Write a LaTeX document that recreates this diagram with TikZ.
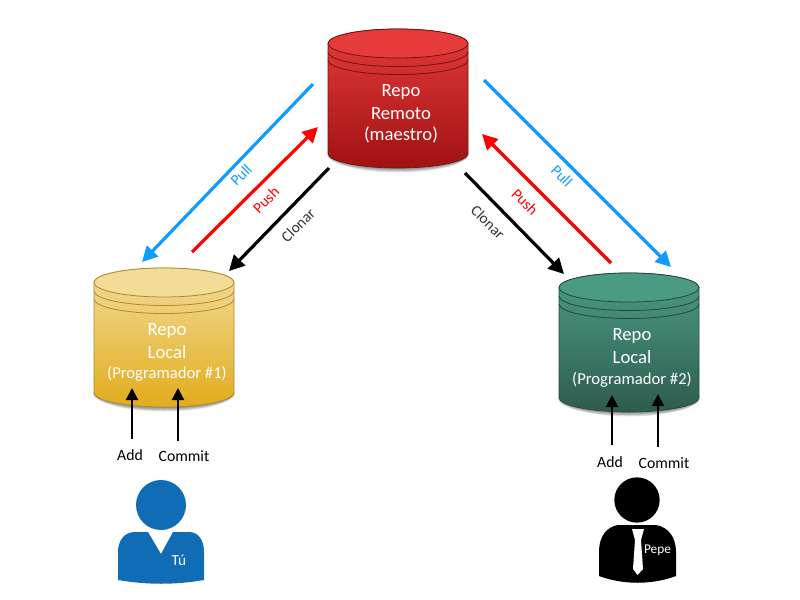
\documentclass[tikz,border=0pt]{standalone}
\usepackage{fontspec}
\setmainfont{Carlito}
\usetikzlibrary{arrows.meta}
\definecolor{pullblue}{HTML}{0F9BFF}
\definecolor{youblue}{HTML}{0F6CB5}
\definecolor{redtop}{HTML}{E63A3A}
\definecolor{redbot}{HTML}{A01212}
\definecolor{redlid}{HTML}{E53B3B}
\definecolor{redline}{HTML}{6E1414}
\definecolor{yeltop}{HTML}{F2DC9C}
\definecolor{yelbot}{HTML}{E2AC1C}
\definecolor{yellid}{HTML}{F2DC98}
\definecolor{yelline}{HTML}{B08A2A}
\definecolor{grntop}{HTML}{4C9C86}
\definecolor{grnbot}{HTML}{2E5C4E}
\definecolor{grnlid}{HTML}{4A9A84}
\definecolor{grnline}{HTML}{24483E}
\tikzset{
  flow/.style={line width=2.4pt,-{Triangle[length=11.5pt,width=11.5pt]}},
  small flow/.style={black,line width=1.6pt,-{Triangle[length=9pt,width=9pt]}},
  repotext/.style={text=white,font=\fontsize{14}{16}\selectfont,inner sep=0pt},
  reposub/.style={text=white,font=\fontsize{12.5}{14}\selectfont,inner sep=0pt},
  flowlabel/.style={font=\fontsize{11.5}{13}\selectfont,inner sep=0pt},
  cmdlabel/.style={font=\fontsize{11.8}{13}\selectfont,inner sep=0pt},
  badge/.style={text=white,font=\fontsize{10}{12}\selectfont,inner sep=0pt},
}
% #1 cx, #2 top y, #3 top colour, #4 bottom colour, #5 lid colour, #6 line colour
\newcommand{\repocyl}[6]{%
  \begin{scope}[shift={(#1,#2)}]
    \foreach \s in {1,...,6}{
      \fill[black,opacity=0.09]
        (-70-0.2*\s,124.5) arc[start angle=180,end angle=360,x radius={(70+0.2*\s)*0.75pt},y radius={(14.5+0.75*\s)*0.75pt}] -- cycle;
    }
    \shade[top color=#3,bottom color=#4,draw=#6,line width=0.5pt]
      (-70,14.5) -- (-70,124.5)
      arc[start angle=180,end angle=360,x radius=52.5pt,y radius=10.875pt]
      -- (70,14.5)
      arc[start angle=0,end angle=180,x radius=52.5pt,y radius=10.875pt] -- cycle;
    \draw[#6,line width=0.6pt] (-70,23) arc[start angle=180,end angle=360,x radius=52.5pt,y radius=10.875pt];
    \draw[#6,line width=0.6pt] (-70,31) arc[start angle=180,end angle=360,x radius=52.5pt,y radius=10.875pt];
    \path[fill=#5,draw=#6,line width=0.6pt] (0,14.5) ellipse[x radius=52.5pt,y radius=10.875pt];
  \end{scope}}
\begin{document}
\begin{tikzpicture}[x=0.75pt,y=-0.75pt]
\useasboundingbox (0,0) rectangle (800,600);

% repositories
\repocyl{398}{29}{redtop}{redbot}{redlid}{redline}
\repocyl{164}{268}{yeltop}{yelbot}{yellid}{yelline}
\repocyl{629}{273}{grntop}{grnbot}{grnlid}{grnline}

\node[repotext] (r1) at (401,92) {Repo};
\node[repotext] (r2) at (401,114) {Remoto};
\node[repotext] (r3) at (401,135) {(maestro)};
\node[repotext] (a1) at (167,331) {Repo};
\node[repotext] (a2) at (167,352) {Local};
\node[reposub] (a3) at (167,374) {(Programador \#1)};
\node[repotext] (b1) at (632,336) {Repo};
\node[repotext] (b2) at (632,357) {Local};
\node[reposub] (b3) at (632,380) {(Programador \#2)};

% free ends of the connectors
\coordinate (pullLs) at (313,84);   \coordinate (pullLe) at (142,262);
\coordinate (pushLs) at (192,252);  \coordinate (pushLe) at (318,127);
\coordinate (cloLs) at (329,168);   \coordinate (cloLe) at (229,271);
\coordinate (pullRs) at (484,80);   \coordinate (pullRe) at (671,267);
\coordinate (pushRs) at (611,263);  \coordinate (pushRe) at (482,134);
\coordinate (cloRs) at (465,173);   \coordinate (cloRe) at (564,274);
\coordinate (addLs) at (132,439);   \coordinate (addLe) at (132,388);
\coordinate (comLs) at (178,441);   \coordinate (comLe) at (178,388);
\coordinate (addRs) at (612,445);   \coordinate (addRe) at (612,395);
\coordinate (comRs) at (658,447);   \coordinate (comRe) at (658,394);

\draw[flow,pullblue] (pullLs) -- (pullLe);
\draw[flow,red] (pushLs) -- (pushLe);
\draw[flow,black] (cloLs) -- (cloLe);
\draw[flow,pullblue] (pullRs) -- (pullRe);
\draw[flow,red] (pushRs) -- (pushRe);
\draw[flow,black] (cloRs) -- (cloRe);
\draw[small flow] (addLs) -- (addLe);
\draw[small flow] (comLs) -- (comLe);
\draw[small flow] (addRs) -- (addRe);
\draw[small flow] (comRs) -- (comRe);

\node[flowlabel,text=pullblue,rotate=45] (lpull) at (241,175) {Pull};
\node[flowlabel,text=red,rotate=45] (lpush) at (266,200) {Push};
\node[flowlabel,text=black!80,rotate=45] (lclo) at (298,225) {Clonar};
\node[flowlabel,text=pullblue,rotate=-45] (rpull) at (562,176) {Pull};
\node[flowlabel,text=red,rotate=-45] (rpush) at (525,202) {Push};
\node[flowlabel,text=black!80,rotate=-45] (rclo) at (488,222) {Clonar};

\node[cmdlabel] (addL) at (130,455) {Add};
\node[cmdlabel] (comL) at (184,456) {Commit};
\node[cmdlabel] (addR) at (610,462) {Add};
\node[cmdlabel] (comR) at (664,463) {Commit};

% person, left
\fill[youblue] (161,505) circle[radius=18.75pt];
\fill[youblue] (148,532) -- (161,554) -- (173,532) -- (189,532)
  .. controls (199,532) and (204,541) .. (204,552) -- (204,580)
  .. controls (175,585) and (147,585) .. (118,580) -- (118,552)
  .. controls (118,541) and (124,532) .. (135,532) -- cycle;
\node[badge,font=\fontsize{11.5}{13}\selectfont] (tu) at (179,560) {Tú};

% person, right
\fill[black] (637,500) circle[radius=17pt];
\fill[black] (618,525) -- (656,525)
  .. controls (668,527) and (676,537) .. (676,552) -- (676,576)
  .. controls (652,585) and (623,585) .. (599,576) -- (599,552)
  .. controls (599,537) and (606,527) .. (618,525) -- cycle;
\fill[white] (632,529) -- (644,529) -- (641,540) -- (643,569) -- (637.5,575) -- (633,569) -- (635,540) -- cycle;
\node[badge] (pepe) at (657.5,550) {Pepe};
\end{tikzpicture}
\end{document}
